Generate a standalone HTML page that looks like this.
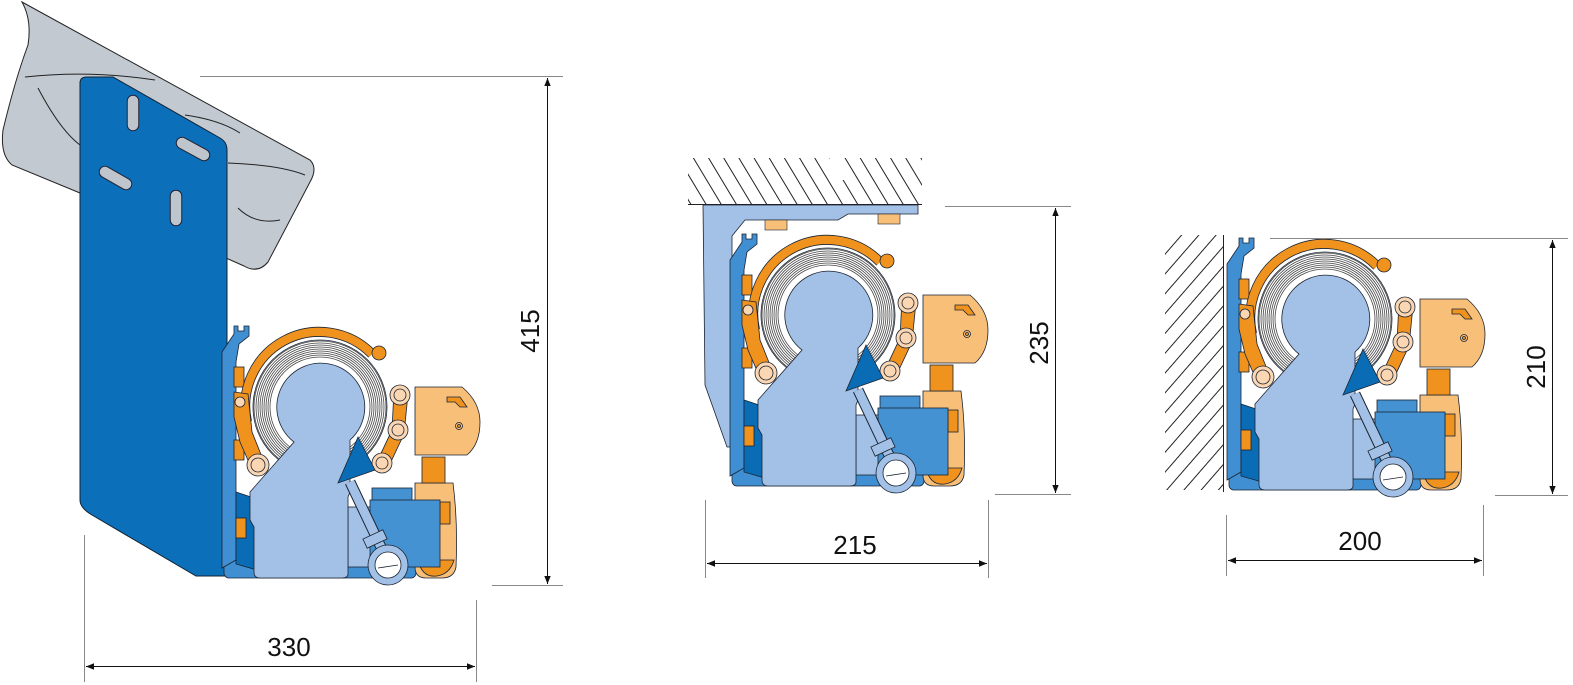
<!DOCTYPE html>
<html><head><meta charset="utf-8"><style>
html,body{margin:0;padding:0;background:#fff;}
svg{display:block;}
text{font-family:"Liberation Sans",Arial,sans-serif;font-size:26px;fill:#111;}
</style></head><body>
<svg width="1573" height="685" viewBox="0 0 1573 685" xmlns="http://www.w3.org/2000/svg">
<defs>
<pattern id="h1" width="13" height="13" patternUnits="userSpaceOnUse" patternTransform="rotate(-31)">
<line x1="6" y1="0" x2="6" y2="13" stroke="#222" stroke-width="1"/></pattern>
<pattern id="h2" width="13" height="13" patternUnits="userSpaceOnUse" patternTransform="rotate(41)">
<line x1="6" y1="0" x2="6" y2="13" stroke="#222" stroke-width="1"/></pattern>
<marker id="ar" viewBox="0 0 10 10" refX="10" refY="5" markerWidth="14" markerHeight="8" orient="auto-start-reverse" markerUnits="userSpaceOnUse">
<path d="M0,1 L10,5 L0,9 Z" fill="#111"/></marker>
<g id="m" stroke="#1a2433" stroke-width="0.8">
 <rect x="2" y="236" width="192" height="20" rx="5" fill="#3f8fd2"/>
 <rect x="126" y="185" width="26" height="60" fill="#a3c1e6"/>
 <path d="M0,30 L12,12 L12,4 L16,4 L16,9 L22,9 L22,4 L27,4 L27,14 L17,22 L14,40 L14,238 L0,246 Z" fill="#3f8fd2"/>
 <path d="M14,170 L32,176 L42,184 L42,250 L14,242 Z" fill="#0a6cb5"/>
 <rect x="12" y="45" width="10" height="20" fill="#f0921e"/>
 <rect x="12" y="118" width="10" height="20" fill="#f0921e"/>
 <rect x="14" y="196" width="10" height="20" fill="#f0921e"/>
 <circle cx="98" cy="85" r="67" fill="#fff"/>
 <g fill="none" stroke="#444" stroke-width="0.8">
  <circle cx="98" cy="85" r="66"/><circle cx="98" cy="85" r="64"/><circle cx="98" cy="85" r="62"/>
  <circle cx="98" cy="85" r="60"/><circle cx="98" cy="85" r="58"/><circle cx="98" cy="85" r="56"/>
  <circle cx="98" cy="85" r="54"/><circle cx="98" cy="85" r="52"/><circle cx="98" cy="85" r="50"/>
 </g>
 <path d="M25,100 A74,74 0 0 1 150,32" fill="none" stroke="#1a2433" stroke-width="10"/>
 <path d="M25,100 A74,74 0 0 1 150,32" fill="none" stroke="#f0921e" stroke-width="8.4"/>
 <circle cx="157" cy="31" r="7" fill="#f0921e"/>
 <path d="M12,70 L26,72 L30,110 L42,140 L32,152 L18,120 L12,95 Z" fill="#f0921e"/>
 <circle cx="18" cy="80" r="5" fill="#fbd6b2"/>
 <circle cx="36" cy="143" r="11" fill="#fbd6b2"/><circle cx="36" cy="143" r="7" fill="#fbd6b2"/>
 <path d="M72,120 A44,44 0 1 1 128,118 L128,170 L126,175 L126,252 Q126,256 120,256 L38,256 Q32,256 32,250 L32,205 L28,198 L28,170 Z" fill="#a3c1e6"/>
 <path d="M172,68 L186,72 L182,112 L166,146 L154,142 L170,108 Z" fill="#f0921e"/>
 <circle cx="178" cy="73" r="10" fill="#fbd6b2"/><circle cx="178" cy="73" r="6" fill="#fbd6b2"/>
 <circle cx="176" cy="108" r="10" fill="#fbd6b2"/><circle cx="176" cy="108" r="6" fill="#fbd6b2"/>
 <circle cx="160" cy="141" r="10" fill="#fbd6b2"/><circle cx="160" cy="141" r="6" fill="#fbd6b2"/>
 <path d="M136,115 L153,148 L116,161 Z" fill="#0a6cb5"/>
 <!-- orange lower -->
 <path d="M193,161 L231,161 Q236,200 234,245 Q232,256 220,256 L204,256 Q193,256 193,245 Z" fill="#f8bf78"/>
 <path d="M196,238 Q200,256 215,254 Q228,252 232,238 Z" fill="#f0921e"/>
 <rect x="218" y="180" width="10" height="22" fill="#f0921e"/>
 <rect x="200" y="135" width="23" height="26" fill="#f0921e"/>
 <!-- blue box -->
 <rect x="150" y="166" width="40" height="16" fill="#4592d3"/>
 <rect x="148" y="178" width="70" height="67" fill="#4592d3"/>
 <!-- arm -->
 <path d="M128,160 L166,240" stroke="#1a2433" stroke-width="11"/>
 <path d="M128,160 L166,240" stroke="#a3c1e6" stroke-width="9"/>
 <rect x="142" y="212" width="22" height="10" fill="#a3c1e6" transform="rotate(-25 153 217)"/>
 <circle cx="166" cy="243" r="20" fill="#a3c1e6"/>
 <circle cx="166" cy="243" r="13" fill="#fff"/>
 <line x1="156" y1="246" x2="176" y2="243"/>
 <!-- orange box -->
 <path d="M193,65 L240,65 Q258,80 258,100 Q258,122 245,133 L193,133 Z" fill="#f8bf78"/>
 <path d="M225,75 L238,75 L245,85 L238,85 L233,80 L225,80 Z" fill="#f0921e"/>
 <circle cx="237" cy="104" r="3.5" fill="#f8bf78"/><circle cx="237" cy="104" r="1.5" fill="#f0921e"/>
</g>
</defs>

<path d="M22,2 L310,160 Q318,168 310,182 L268,262 Q258,274 244,266 L80,193 L12,165 Q0,155 3,130 Q15,80 28,45 Q32,20 22,2 Z" fill="#c3c9d1" stroke="#222" stroke-width="1"/>
<path d="M25,77 Q90,70 155,80 M38,88 Q60,130 80,145 M185,115 Q220,120 240,133 M228,163 Q280,165 305,175 M238,208 Q255,225 280,220" fill="none" stroke="#222" stroke-width="1"/>
<path d="M80,83 Q80,77 87,77 L113,77 L220,138 Q227,142 227,150 L227,576 L196,576 L92,515 Q80,508 80,500 Z" fill="#0b6fba" stroke="#123" stroke-width="1"/>
<g stroke="#223" stroke-width="12.5" stroke-linecap="round"><line x1="133" y1="101" x2="133" y2="125"/><line x1="182" y1="143" x2="204" y2="155"/><line x1="105" y1="172" x2="126" y2="184"/><line x1="176" y1="196" x2="176" y2="220"/></g>
<g stroke="#bfc5cc" stroke-width="10.5" stroke-linecap="round"><line x1="133" y1="101" x2="133" y2="125"/><line x1="182" y1="143" x2="204" y2="155"/><line x1="105" y1="172" x2="126" y2="184"/><line x1="176" y1="196" x2="176" y2="220"/></g>
<use href="#m" x="222" y="322"/>

<rect x="688" y="158" width="234" height="46" fill="url(#h1)"/>
<rect x="830" y="158" width="14" height="22" fill="#fff"/>
<line x1="688" y1="204.5" x2="922" y2="204.5" stroke="#222" stroke-width="1"/>
<path d="M703,205 L918,205 L918,214 L848,214 L838,220 L745,220 L732,236 L732,447 L727,447 L705,385 Z" fill="#a3c1e6" stroke="#1a2433" stroke-width="0.8"/>
<rect x="765" y="220" width="22" height="10" fill="#f8bf78" stroke="#1a2433" stroke-width="0.6"/>
<rect x="878" y="214" width="22" height="10" fill="#f8bf78" stroke="#1a2433" stroke-width="0.6"/>
<use href="#m" x="730" y="230"/>

<rect x="1165" y="235" width="58" height="255" fill="url(#h2)"/>
<line x1="1223.5" y1="235" x2="1223.5" y2="492" stroke="#222" stroke-width="1"/>
<use href="#m" x="1227" y="234"/>

<g stroke="#888" stroke-width="1">
<line x1="200" y1="76.5" x2="563" y2="76.5"/><line x1="492" y1="585.5" x2="563" y2="585.5"/>
<line x1="84.5" y1="535" x2="84.5" y2="682"/><line x1="476.5" y1="600" x2="476.5" y2="682"/>
<line x1="945" y1="206.5" x2="1071" y2="206.5"/><line x1="995" y1="494.5" x2="1071" y2="494.5"/>
<line x1="705.5" y1="500" x2="705.5" y2="578"/><line x1="988.5" y1="500" x2="988.5" y2="578"/>
<line x1="1270" y1="238.5" x2="1568" y2="238.5"/><line x1="1495" y1="495.5" x2="1568" y2="495.5"/>
<line x1="1226.5" y1="515" x2="1226.5" y2="576"/><line x1="1483.5" y1="505" x2="1483.5" y2="576"/>
</g>
<g stroke="#111" stroke-width="1">
<line x1="547.5" y1="78" x2="547.5" y2="584" marker-start="url(#ar)" marker-end="url(#ar)"/>
<line x1="86" y1="666.5" x2="475" y2="666.5" marker-start="url(#ar)" marker-end="url(#ar)"/>
<line x1="1055.5" y1="208" x2="1055.5" y2="493" marker-start="url(#ar)" marker-end="url(#ar)"/>
<line x1="707" y1="563.5" x2="987" y2="563.5" marker-start="url(#ar)" marker-end="url(#ar)"/>
<line x1="1552.5" y1="240" x2="1552.5" y2="494" marker-start="url(#ar)" marker-end="url(#ar)"/>
<line x1="1228" y1="560.5" x2="1482" y2="560.5" marker-start="url(#ar)" marker-end="url(#ar)"/>
</g>
<text x="289" y="656" text-anchor="middle">330</text>
<text transform="translate(539,331) rotate(-90)" text-anchor="middle">415</text>
<text x="855" y="554" text-anchor="middle">215</text>
<text transform="translate(1048,343) rotate(-90)" text-anchor="middle">235</text>
<text x="1360" y="550" text-anchor="middle">200</text>
<text transform="translate(1545,367) rotate(-90)" text-anchor="middle">210</text>
</svg>
</body></html>
